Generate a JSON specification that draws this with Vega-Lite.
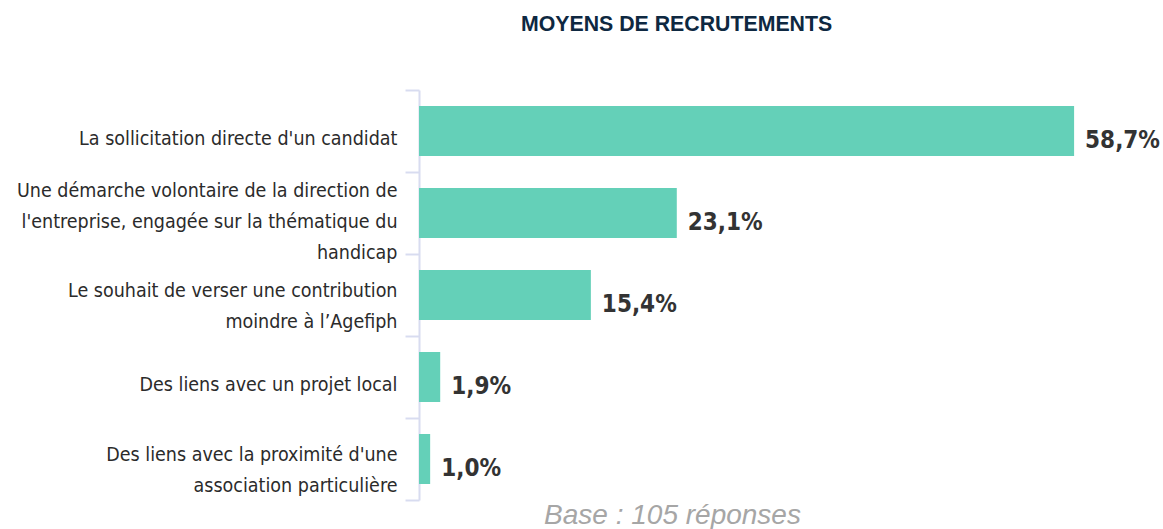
{
  "$schema": "https://vega.github.io/schema/vega-lite/v6.json",
  "autosize": {"type": "none"},
  "width": 735,
  "height": 410,
  "padding": {"left": 419, "top": 90, "right": 9, "bottom": 29},
  "background": "white",
  "title": {
    "text": "MOYENS DE RECRUTEMENTS",
    "anchor": "start",
    "frame": "group",
    "dx": 102,
    "offset": 28,
    "baseline": "alphabetic",
    "font": "Liberation Sans",
    "fontSize": 21.3,
    "fontWeight": "bold",
    "color": "#0e2841"
  },
  "data": {
    "values": [
      {"cat": "La sollicitation directe d'un candidat", "value": 58.7},
      {"cat": "Une démarche volontaire de la direction de|l'entreprise, engagée sur la thématique du|handicap", "value": 23.1},
      {"cat": "Le souhait de verser une contribution|moindre à l’Agefiph", "value": 15.4},
      {"cat": "Des liens avec un projet local", "value": 1.9},
      {"cat": "Des liens avec la proximité d'une|association particulière", "value": 1.0}
    ]
  },
  "transform": [
    {"calculate": "replace(format(datum.value, '.1f'), '.', ',') + '%'", "as": "lbl"}
  ],
  "encoding": {
    "y": {
      "field": "cat",
      "type": "nominal",
      "sort": null,
      "scale": {"paddingInner": 0, "paddingOuter": 0},
      "axis": {
        "title": null,
        "tickBand": "extent",
        "tickSize": 14,
        "tickWidth": 2,
        "tickColor": "#d8dcf0",
        "domainColor": "#d8dcf0",
        "domainWidth": 2,
        "labelPadding": 8,
        "labelFont": "DejaVu Sans Condensed",
        "labelFontSize": 19.5,
        "labelColor": "#2b2b2b",
        "labelLineHeight": 31,
        "labelLimit": 600,
        "labelExpr": "split(datum.label, '|')",
        "labelOffset": {
          "condition": [
            {"test": "length(split(datum.value, '|')) == 3", "value": -23},
            {"test": "length(split(datum.value, '|')) == 2", "value": -5}
          ],
          "value": 7
        }
      }
    },
    "x": {
      "field": "value",
      "type": "quantitative",
      "scale": {"domain": [0, 65.86], "nice": false},
      "axis": {
        "grid": false,
        "domain": false,
        "ticks": false,
        "labels": false,
        "title": "Base : 105 réponses",
        "titleFont": "Liberation Sans",
        "titleFontStyle": "italic",
        "titleFontWeight": "normal",
        "titleFontSize": 28,
        "titleColor": "#a6a6a6",
        "titleX": 253,
        "titleY": 23,
        "titleAlign": "center",
        "titleBaseline": "alphabetic"
      }
    }
  },
  "layer": [
    {"mark": {"type": "bar", "color": "#64d0b8", "height": {"band": 0.61}}},
    {
      "mark": {
        "type": "text",
        "align": "left",
        "baseline": "alphabetic",
        "dx": 11,
        "dy": 17,
        "font": "DejaVu Sans Condensed",
        "fontWeight": "bold",
        "fontSize": 24,
        "color": "#333333"
      },
      "encoding": {"text": {"field": "lbl"}}
    }
  ],
  "config": {"view": {"stroke": null}}
}
